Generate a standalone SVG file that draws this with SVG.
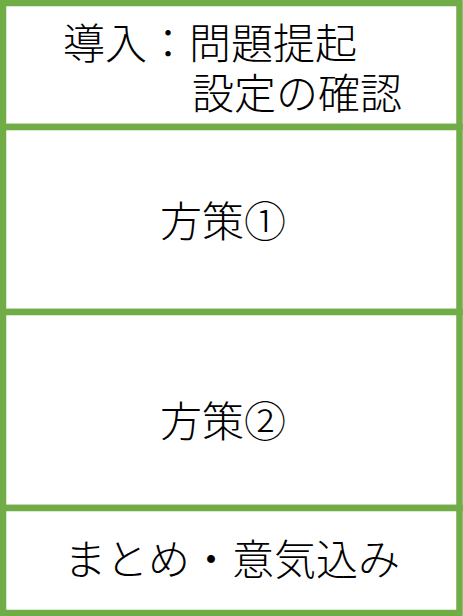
<svg xmlns="http://www.w3.org/2000/svg" width="463" height="616" viewBox="0 0 463 616">
<style>
.box{fill:#FFFFFF;stroke:#70AD47;stroke-width:6.5}
.t{font-family:"Liberation Sans","Noto Sans CJK JP","Noto Sans CJK SC",sans-serif;font-size:42px;font-weight:300;fill:#000000}
</style>
<rect x="0" y="0" width="463" height="616" fill="#FFFFFF"/>
<g id="node-intro">
<rect class="box" x="3" y="3" width="456.5" height="124"/>
<text class="t" x="63" y="59">導入：問題提起</text>
<text class="t" x="192" y="109">設定の確認</text>
</g>
<g id="node-measure1">
<rect class="box" x="3" y="127" width="456.5" height="185"/>
<text class="t" x="160" y="237">方策①</text>
</g>
<g id="node-measure2">
<rect class="box" x="3" y="312" width="456.5" height="196"/>
<text class="t" x="160" y="437">方策②</text>
</g>
<g id="node-summary">
<rect class="box" x="3" y="508" width="456.5" height="105"/>
<text class="t" x="64" y="575">まとめ・意気込み</text>
</g>
<g id="connectors"></g>
</svg>
